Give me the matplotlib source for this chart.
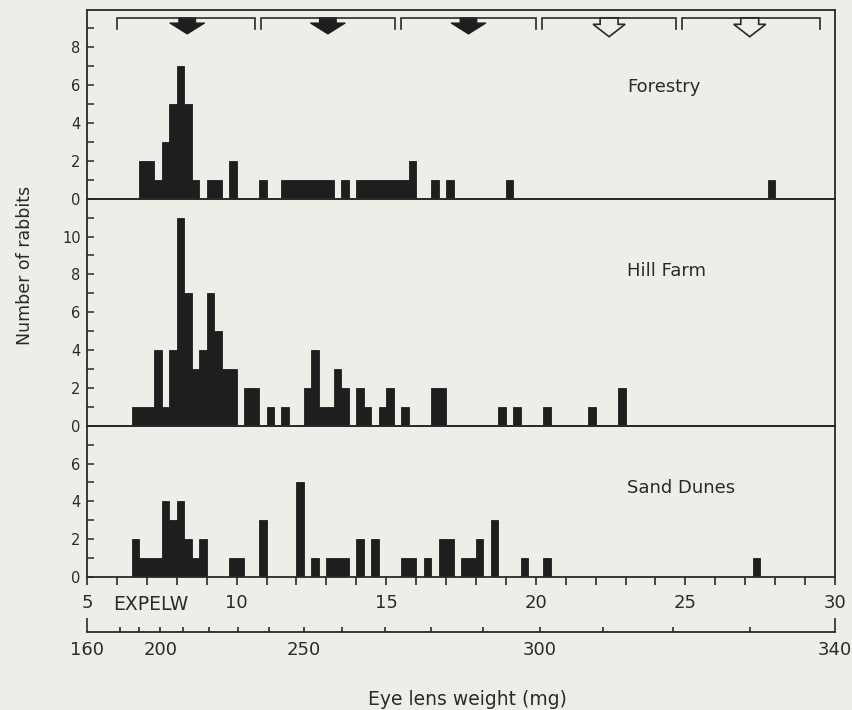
import numpy as np
import matplotlib
matplotlib.use("Agg")
import matplotlib.pyplot as plt
from matplotlib.ticker import FixedLocator, FuncFormatter
from matplotlib.patches import Polygon

# ---------------- data ----------------
bin_width = 0.25  # EXPELW bin width

forestry_bins = [6.75, 7.0, 7.25, 7.5, 7.75, 8.0, 8.25, 8.5, 9.0, 9.25, 9.75,
                 10.75, 11.5, 11.75, 12.0, 12.25, 12.5, 12.75, 13.0, 13.5,
                 14.0, 14.25, 14.5, 14.75, 15.0, 15.25, 15.5, 15.75, 16.5,
                 17.0, 19.0, 27.75]
forestry_counts = [2, 2, 1, 3, 5, 7, 5, 1, 1, 1, 2,
                   1, 1, 1, 1, 1, 1, 1, 1, 1,
                   1, 1, 1, 1, 1, 1, 1, 2, 1,
                   1, 1, 1]

hillfarm_bins = [6.5, 6.75, 7.0, 7.25, 7.5, 7.75, 8.0, 8.25, 8.5, 8.75, 9.0,
                 9.25, 9.5, 9.75, 10.25, 10.5, 11.0, 11.5, 12.25, 12.5, 12.75,
                 13.0, 13.25, 13.5, 14.0, 14.25, 14.75, 15.0, 15.5, 16.5,
                 16.75, 18.75, 19.25, 20.25, 21.75, 22.75]
hillfarm_counts = [1, 1, 1, 4, 1, 4, 11, 7, 3, 4, 7,
                   5, 3, 3, 2, 2, 1, 1, 2, 4, 1,
                   1, 3, 2, 2, 1, 1, 2, 1, 2,
                   2, 1, 1, 1, 1, 2]

sanddunes_bins = [6.5, 6.75, 7.0, 7.25, 7.5, 7.75, 8.0, 8.25, 8.5, 8.75,
                  9.75, 10.0, 10.75, 12.0, 12.5, 13.0, 13.25, 13.5, 14.0,
                  14.5, 15.5, 15.75, 16.25, 16.75, 17.0, 17.5, 17.75, 18.0,
                  18.5, 19.5, 20.25, 27.25]
sanddunes_counts = [2, 1, 1, 1, 4, 3, 4, 2, 1, 2,
                    1, 1, 3, 5, 1, 1, 1, 1, 2,
                    2, 1, 1, 1, 2, 2, 1, 1, 2,
                    3, 1, 1, 1]

panel_names = ["Forestry", "Hill Farm", "Sand Dunes"]
panel_bins = [forestry_bins, hillfarm_bins, sanddunes_bins]
panel_counts = [forestry_counts, hillfarm_counts, sanddunes_counts]
panel_ymax = [10, 12, 8]
panel_label_y = [5.9, 8.2, 4.7]

expelw_ticks = list(range(5, 31))
expelw_labelled = [5, 10, 15, 20, 25, 30]
mg_end_ticks = [160, 340]
mg_inner_ticks = [180, 190, 200, 210, 220, 230, 240, 250, 260, 270, 280,
                  290, 300, 310, 320, 330]
mg_labelled = [160, 200, 250, 300, 340]
# scale link: EXPELW 5 <-> 160 mg, EXPELW 30 <-> 340 mg (exponential)
mg_at_x0, x0 = 160.0, 5.0
mg_at_x1, x1 = 340.0, 30.0

bracket_edges = [6.0, 10.7, 15.4, 20.1, 24.8, 29.5]
arrow_filled = [True, True, True, False, False]

# ---------------- style ----------------
BG = "#eeede8"
INK = "#1e1e1e"
LINE = "#2a2a2a"
plt.rcParams["font.family"] = ["DejaVu Sans"]
plt.rcParams["text.color"] = LINE
plt.rcParams["xtick.color"] = LINE
plt.rcParams["ytick.color"] = LINE
plt.rcParams["xtick.labelcolor"] = LINE
plt.rcParams["ytick.labelcolor"] = LINE

W, H = 852, 710
fig = plt.figure(figsize=(W / 100, H / 100), dpi=100, facecolor=BG)

x_left_px, x_right_px = 87, 835
top_px, bottom_px = 9.5, 577
unit_px = (bottom_px - top_px) / sum(panel_ymax)

axes = []
cur_top = top_px
for i, ymax in enumerate(panel_ymax):
    h_px = ymax * unit_px
    ax = fig.add_axes([x_left_px / W, (H - (cur_top + h_px)) / H,
                       (x_right_px - x_left_px) / W, h_px / H])
    cur_top += h_px
    ax.set_facecolor("none")
    ax.set_xlim(5, 30)
    ax.set_ylim(0, ymax)
    ax.bar(panel_bins[i], panel_counts[i], width=bin_width, align="edge",
           color=INK, edgecolor=INK, linewidth=0.6)
    for s in ax.spines.values():
        s.set_color(LINE)
        s.set_linewidth(1.3)
    ax.set_yticks(list(range(0, ymax)))
    ax.yaxis.set_major_formatter(
        FuncFormatter(lambda v, p: f"{int(round(v))}" if int(round(v)) % 2 == 0 else ""))
    ax.tick_params(axis="y", direction="in", length=5, width=1.1,
                   labelsize=10.5, pad=4.5)
    ax.text(23.05, panel_label_y[i], panel_names[i], fontsize=13,
            ha="left", va="center")
    axes.append(ax)

for ax in axes[:-1]:
    ax.tick_params(axis="x", bottom=False, labelbottom=False)

ax3 = axes[-1]
ax3.set_xticks(expelw_ticks)
ax3.xaxis.set_major_formatter(
    FuncFormatter(lambda v, p: f"{int(round(v))}" if int(round(v)) in expelw_labelled else ""))
ax3.tick_params(axis="x", direction="out", length=5.8, width=1.2,
                labelsize=13, pad=6.5)
ax3.annotate("EXPELW", xy=(5.87, 0), xycoords=("data", "axes fraction"),
             xytext=(0, -17.5 * 0.72), textcoords="offset points",
             ha="left", va="top", fontsize=13.5)

# secondary axis: eye lens weight (mg), exponential link with EXPELW
k = np.log(x1 / x0) / (mg_at_x1 - mg_at_x0)


def expelw_to_mg(x):
    return mg_at_x0 + np.log(np.clip(np.asarray(x, dtype=float), 1e-9, None) / x0) / k


def mg_to_expelw(m):
    return x0 * np.exp(k * (np.asarray(m, dtype=float) - mg_at_x0))


sec_loc = -(632 - bottom_px) / (panel_ymax[-1] * unit_px)
sec = ax3.secondary_xaxis(sec_loc, functions=(expelw_to_mg, mg_to_expelw))
sec.set_xticks([m + (0.01 if m == mg_at_x0 else -0.01) for m in mg_end_ticks])
sec.xaxis.set_major_formatter(FuncFormatter(lambda v, p: f"{int(round(v))}"))
sec.xaxis.set_minor_locator(FixedLocator(mg_inner_ticks))
sec.xaxis.set_minor_formatter(
    FuncFormatter(lambda v, p: f"{int(round(v))}" if int(round(v)) in mg_labelled else ""))
sec.tick_params(which="major", direction="in", length=10, width=1.2,
                labelsize=13, pad=6.5)
sec.tick_params(which="minor", direction="in", length=3.8, width=1.2,
                labelsize=13, pad=6.5)
for s in sec.spines.values():
    s.set_color(LINE)
    s.set_linewidth(1.3)

fig.text(467 / W, 5 / H, "Eye lens weight (mg)", ha="center", va="baseline",
         fontsize=13.5)
fig.text(25 / W, (H - 265) / H, "Number of rabbits", rotation=90,
         ha="center", va="center", fontsize=12.5)

# bracket with arrows on the top panel
ax1 = axes[0]
ytop = panel_ymax[0]
y_line = ytop - 8.3 / unit_px
y_tick = ytop - 19.5 / unit_px
gap = 0.1
for i in range(len(bracket_edges) - 1):
    a = bracket_edges[i] + (gap if i > 0 else 0)
    b = bracket_edges[i + 1] - (gap if i < len(bracket_edges) - 2 else 0)
    ax1.plot([a, a, b, b], [y_tick, y_line, y_line, y_tick], color=LINE,
             lw=1.2, solid_joinstyle="miter", clip_on=False)
    c = 0.5 * (bracket_edges[i] + bracket_edges[i + 1])
    if arrow_filled[i]:
        sw, hw = 0.28, 0.585
        ysh = ytop - 13.5 / unit_px
        ytip = ytop - 24.5 / unit_px
    else:
        sw, hw = 0.30, 0.535
        ysh = ytop - 14.8 / unit_px
        ytip = ytop - 27.2 / unit_px
    verts = [(c - sw, y_line), (c + sw, y_line), (c + sw, ysh), (c + hw, ysh),
             (c, ytip), (c - hw, ysh), (c - sw, ysh)]
    if arrow_filled[i]:
        poly = Polygon(verts, closed=True, facecolor=INK, edgecolor=INK, lw=0.8)
    else:
        poly = Polygon(verts, closed=True, facecolor=BG, edgecolor=LINE, lw=1.2)
    ax1.add_patch(poly)

fig.savefig("out.png", dpi=100, facecolor=BG)
